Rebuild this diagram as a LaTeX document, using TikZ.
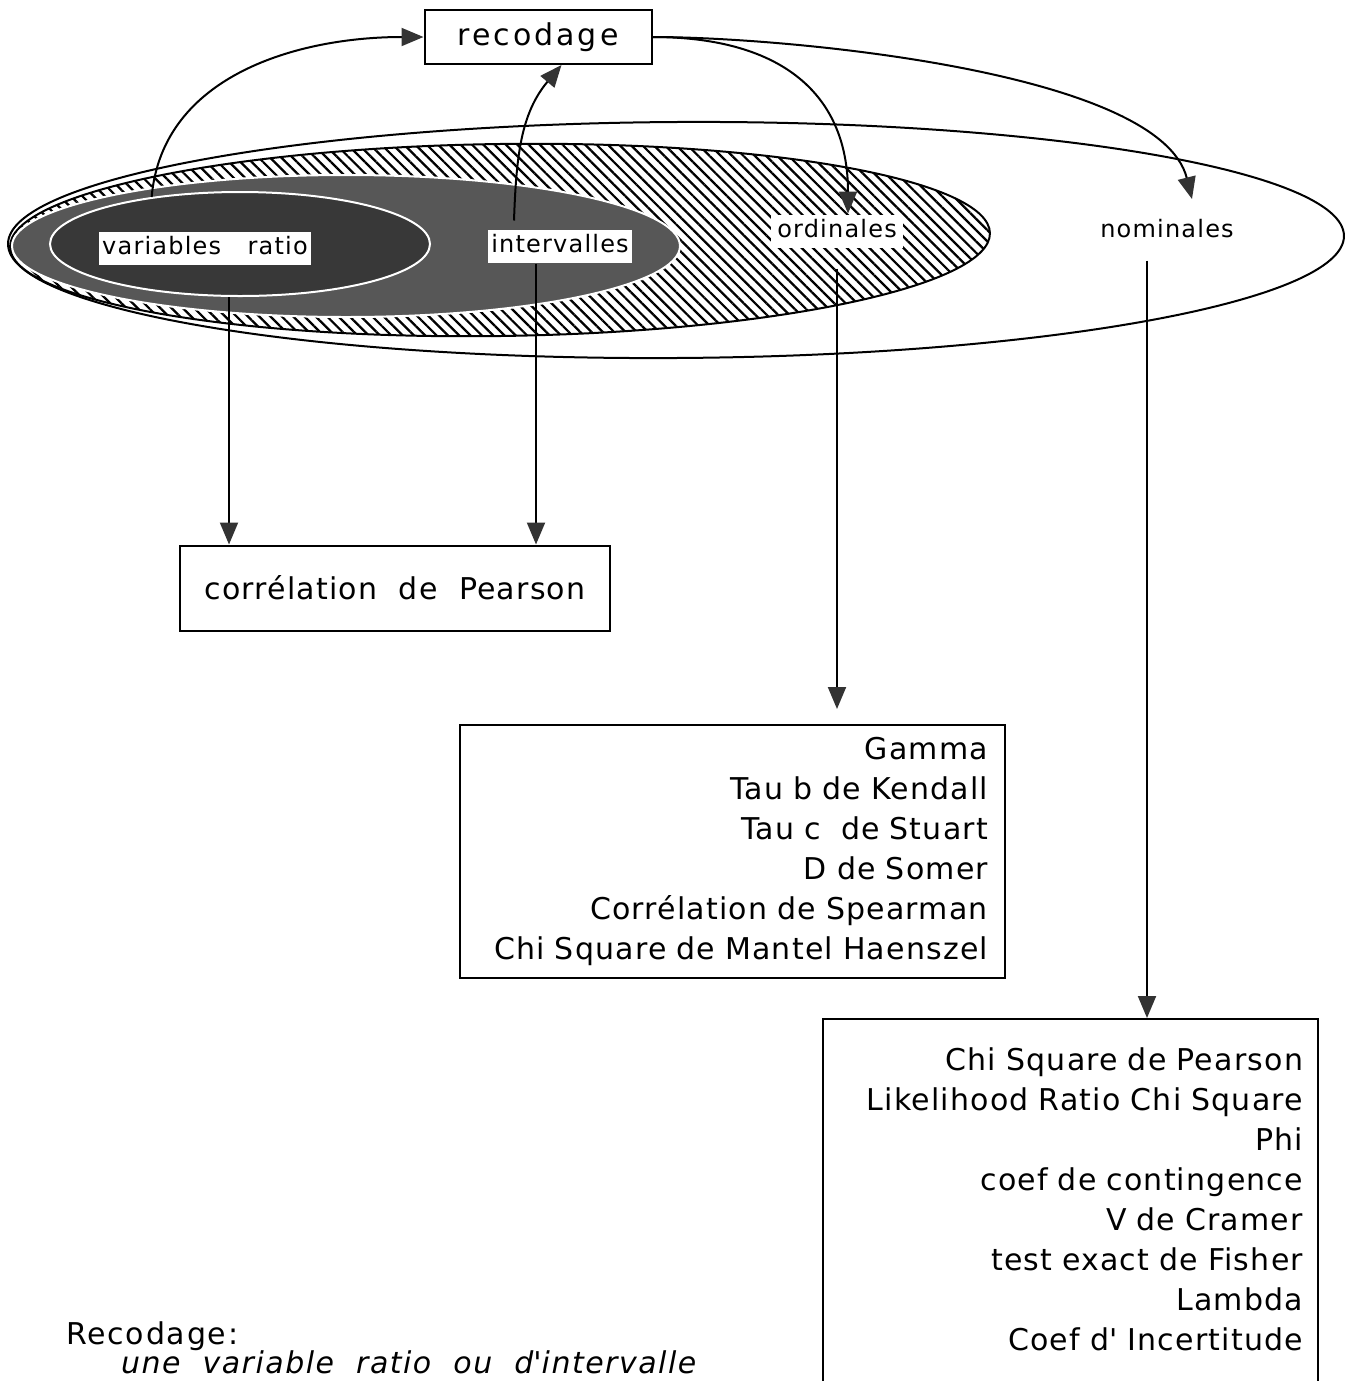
\documentclass[tikz,border=0pt]{standalone}
\usepackage{fontspec}
\setmainfont{DejaVu Sans}[ItalicFont={DejaVu Sans Oblique}]
\usetikzlibrary{arrows.meta,shapes.geometric,patterns.meta}

\begin{document}
\begin{tikzpicture}[x=0.2mm,y=-0.2mm,->,>={Triangle[length=4.4mm,width=3.6mm,color=black!80]},
                    line width=0.4mm]
  \tikzstyle{ring}=[ellipse,draw=black,inner sep=0pt]
  \tikzstyle{lab}=[fill=white,inner xsep=0.6mm,inner ysep=1mm,text height=3.6mm,text depth=1mm,
                   font=\fontsize{4.8mm}{5.5mm}\selectfont\addfontfeatures{LetterSpace=5}]
  \tikzstyle{box}=[draw=black,rectangle,inner sep=0pt]
  \tikzstyle{big}=[font=\fontsize{6mm}{8mm}\selectfont\addfontfeatures{LetterSpace=4}]

  \useasboundingbox (0,0) rectangle (1348,1381);
  \clip (0,0) rectangle (1348,1381);

  \node[ring,minimum width=267.2mm,minimum height=47.2mm,rotate=0.35] (nom) at (676,240) {};
  \node[ring,minimum width=196mm,minimum height=38.4mm,rotate=0.8,
        pattern={Lines[angle=-45,distance=1.6mm,line width=0.45mm]}] (ord) at (500,240) {};
  \node[ring,minimum width=133.6mm,minimum height=28.4mm,fill=black!66,draw=white] (int) at (346,246) {};
  \node[ring,minimum width=76mm,minimum height=20.8mm,fill=black!78,draw=white] (rat) at (240,244) {};

  \node[lab] (lrat) at (205,248) {variables~~~ratio};
  \node[lab] (lint) at (560,246) {intervalles};
  \node[lab,inner xsep=1.2mm] (lord) at (837,231) {ordinales};
  \node[lab] (lnom) at (1167,231) {nominales};

  \node[box,minimum width=45.4mm,minimum height=10.8mm,
        font=\fontsize{6mm}{7mm}\selectfont\addfontfeatures{LetterSpace=10}] (rec) at (538,37) {recodage};
  \node[box,big,minimum width=86mm,minimum height=17mm] (pear) at (395,588) {corrélation~~de~~Pearson};
  \node[box,big,minimum width=109mm,minimum height=50.6mm,text width=102.2mm,align=right] (tord)
        at (732.5,851.5) {Gamma\\Tau b de Kendall\\Tau c~~de Stuart\\D de Somer\\
                          Corrélation de Spearman\\Chi Square de Mantel Haenszel};
  \node[box,big,anchor=north,minimum width=99mm,minimum height=80mm,text width=93mm,align=right] (tnom)
        at (1070.5,1018) {Chi Square de Pearson\\Likelihood Ratio Chi Square\\Phi\\coef de contingence\\
                          V de Cramer\\test exact de Fisher\\Lambda\\Coef d\textquotesingle{} Incertitude\\~};

  \node[big,anchor=base west,inner sep=0pt,
        font=\fontsize{6mm}{8mm}\selectfont\addfontfeatures{LetterSpace=6}] (head) at (65,1344) {Recodage:};
  \node[big,anchor=base west,inner sep=0pt,
        font=\fontsize{6mm}{8mm}\selectfont\itshape\addfontfeatures{LetterSpace=5}] (note)
        at (120,1373) {une~~variable~~ratio~~ou~~d\textquotesingle intervalle};

  \path (rat.152) edge [out=85,in=180] (rec.west)
        ([xshift=-9.2mm,yshift=1.6mm]lint.north) edge [out=88,in=-130] (rec.-50)
        (rec.east) edge [out=0,in=90,looseness=1.2] ([xshift=2.2mm]lord.north)
        (rec.east) edge [out=0,in=104,looseness=0.6] ([xshift=5mm,yshift=2.9mm]lnom.north)
        ([xshift=-2.2mm]rat.south) edge ([xshift=-2.2mm]rat.south |- pear.north)
        ([xshift=-4.8mm]lint.south) edge ([xshift=-4.8mm]lint.south |- pear.north)
        (lord.south) edge [shorten <=4mm,shorten >=3mm] (lord.south |- tord.north)
        ([xshift=-4mm]lnom.south) edge [shorten <=2.4mm] ([xshift=-4mm]lnom.south |- tnom.north);
\end{tikzpicture}
\end{document}
